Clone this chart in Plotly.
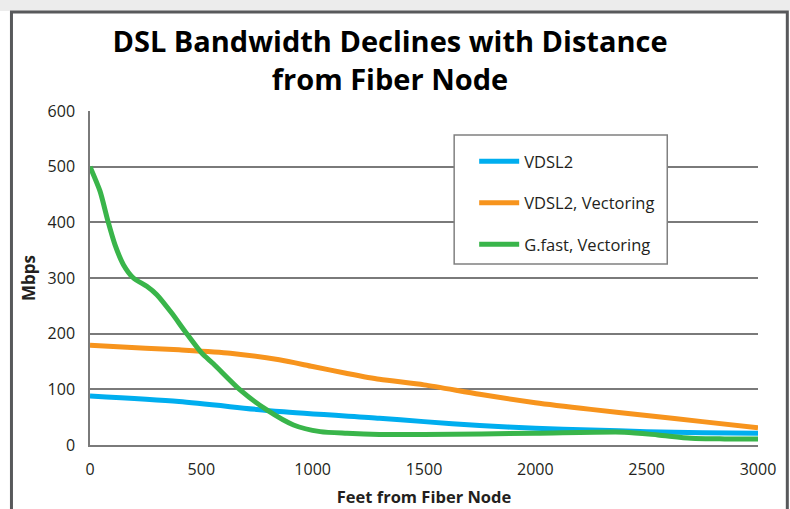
import plotly.graph_objects as go

# Data
vdsl2_x = [0, 400, 850, 1300, 1500, 1750, 2000, 2250, 2500, 2750, 3000]
vdsl2_y = [88, 78, 60, 48, 42, 35, 30, 27, 24, 22, 21]

vect_x = [0, 250, 400, 630, 850, 1000, 1150, 1300, 1500, 1750, 2000, 2250, 2500, 2750, 3000]
vect_y = [179, 174, 171, 165, 153, 141, 129, 118, 108, 91, 76, 64, 53, 42, 31]

gfast_x = [0, 45, 80, 112, 150, 195, 255, 300, 367, 427, 502, 554, 674, 794, 914, 1034, 1154, 1300, 1500, 2000, 2400, 2550, 2700, 2850, 3000]
gfast_y = [500, 456, 403, 360, 324, 300, 285, 270, 237, 204, 165, 146, 99, 63, 36, 24, 21, 19, 19, 21, 23, 18, 12, 11, 11]

series_names = ["VDSL2", "VDSL2, Vectoring", "G.fast, Vectoring"]
colors = ["#00AEEF", "#F7941D", "#39B54A"]

x_ticks = [0, 500, 1000, 1500, 2000, 2500, 3000]
y_ticks = [0, 100, 200, 300, 400, 500, 600]

FONT = "Open Sans"
TXT = "#231F20"
GRID = "#7a7a7a"

fig = go.Figure()
for i, (xs, ys) in enumerate([(vdsl2_x, vdsl2_y), (vect_x, vect_y), (gfast_x, gfast_y)]):
    fig.add_trace(go.Scatter(
        x=xs, y=ys, mode="lines", name=series_names[i],
        legendgroup=f"g{i}",
        line=dict(color=colors[i], width=5, shape="spline", smoothing=0.7),
    ))

W, H = 790, 509
L, R, T, B = 90, 757.7, 111, 445
PW, PH = R - L, B - T


def px(x):
    return (x - L) / PW


def py(y):
    return (B - y) / PH


fig.update_layout(
    width=W, height=H,
    margin=dict(l=L, r=W - R, t=T, b=H - B, autoexpand=False),
    paper_bgcolor="white", plot_bgcolor="white",
    font=dict(family=FONT, color=TXT, size=16),
    title=dict(
        text="<b>DSL Bandwidth Declines with Distance<br>from Fiber Node</b>",
        x=390 / W, xref="container", xanchor="center",
        y=1 - 52 / H, yref="container", yanchor="top",
        font=dict(family=FONT, size=29, color="#000000"),
    ),
    legend=dict(
        x=px(474), xanchor="left",
        y=py(144), yanchor="top",
        bgcolor="rgba(0,0,0,0)", borderwidth=0,
        font=dict(family=FONT, size=16.5, color=TXT),
        tracegroupgap=17,
        itemwidth=40,
    ),
    xaxis=dict(
        range=[0, 3000], tickvals=x_ticks, showgrid=False,
        showline=True, linecolor=GRID, linewidth=1.5,
        ticks="", tickfont=dict(size=16), zeroline=False,
        ticklabelstandoff=9,
        title=dict(text="<b>Feet from Fiber Node</b>", font=dict(size=16.5), standoff=12),
    ),
    yaxis=dict(
        range=[0, 600], tickvals=y_ticks, showgrid=True,
        gridcolor=GRID, gridwidth=1.5,
        showline=True, linecolor=GRID, linewidth=1.5,
        ticks="", tickfont=dict(size=16), zeroline=False,
        ticklabelstandoff=10,
        title=dict(text="<b>Mbps</b>", font=dict(size=17), standoff=8),
    ),
    shapes=[
        # top shadow strip
        dict(type="rect", xref="paper", yref="paper",
             x0=px(0), x1=px(W), y0=py(11), y1=py(0),
             fillcolor="#ececec", line=dict(width=0), layer="below"),
        # outer frame
        dict(type="rect", xref="paper", yref="paper",
             x0=px(11.5), x1=px(787), y0=py(540), y1=py(12),
             fillcolor="rgba(0,0,0,0)", line=dict(color="#58595b", width=3)),
        # legend box
        dict(type="rect", xref="paper", yref="paper",
             x0=px(454), x1=px(667), y0=py(264), y1=py(135),
             fillcolor="white", line=dict(color="#808080", width=1.5), layer="above"),
    ],
)

fig.write_html("out.html", config={"displayModeBar": False},
               post_script="document.body.style.margin='0';")
